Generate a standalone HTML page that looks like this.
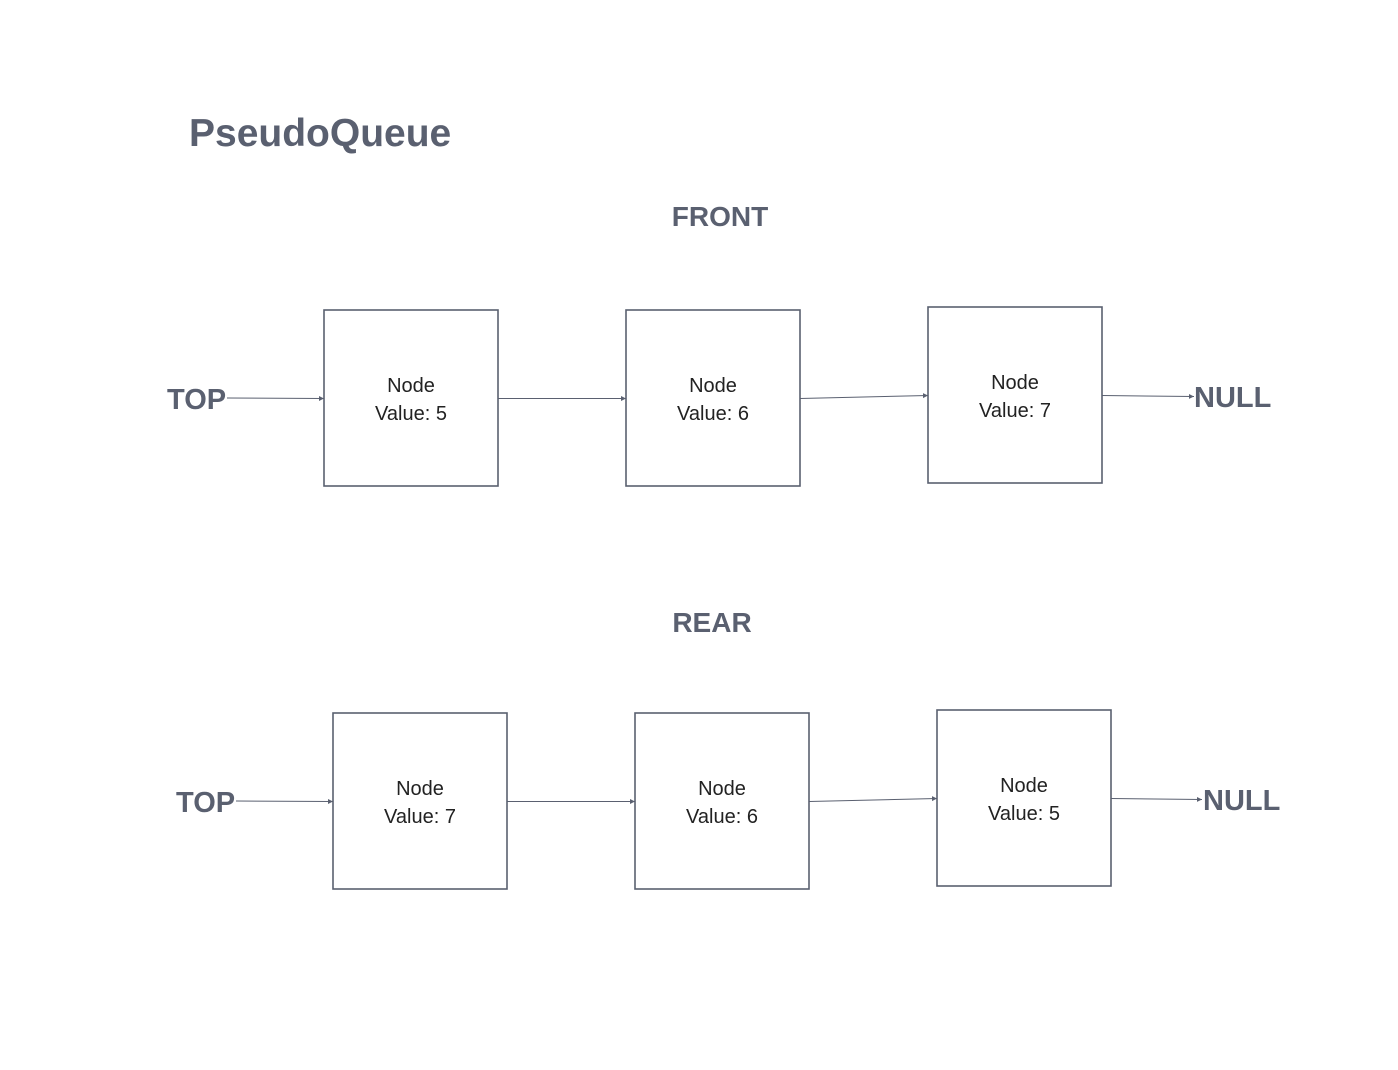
<!DOCTYPE html>
<html><head><meta charset="utf-8"><style>
html,body{margin:0;padding:0;background:#fff;}
svg{display:block;}
</style></head><body>
<svg width="1398" height="1070" viewBox="0 0 1398 1070" xmlns="http://www.w3.org/2000/svg">
<defs><marker id="a" markerWidth="6" markerHeight="6" refX="5" refY="3" orient="auto" markerUnits="userSpaceOnUse"><path d="M0,0.5 L5,3 L0,5.5 z" fill="#5a6070"/></marker></defs>
<g font-family="Liberation Sans, sans-serif" fill="#5a6070" font-weight="bold">
<text x="189" y="146" font-size="39">PseudoQueue</text>
<text x="720" y="226" font-size="28" text-anchor="middle">FRONT</text>
<text x="712" y="632" font-size="28" text-anchor="middle">REAR</text>
<text x="167" y="409" font-size="29">TOP</text>
<text x="1194" y="407" font-size="29">NULL</text>
<text x="176" y="812" font-size="29">TOP</text>
<text x="1203" y="810" font-size="29">NULL</text>
</g>
<g fill="#fff" stroke="#5a6070" stroke-width="1.6">
<rect x="324" y="310" width="174" height="176"/>
<rect x="626" y="310" width="174" height="176"/>
<rect x="928" y="307" width="174" height="176"/>
<rect x="333" y="713" width="174" height="176"/>
<rect x="635" y="713" width="174" height="176"/>
<rect x="937" y="710" width="174" height="176"/>
</g>
<g stroke="#5a6070" stroke-width="1" marker-end="url(#a)">
<line x1="227" y1="398" x2="324" y2="398.5"/>
<line x1="498" y1="398.5" x2="626" y2="398.5"/>
<line x1="800" y1="398.5" x2="928" y2="395.5"/>
<line x1="1102" y1="395.5" x2="1194" y2="396.5"/>
<line x1="236" y1="801" x2="333" y2="801.5"/>
<line x1="507" y1="801.5" x2="635" y2="801.5"/>
<line x1="809" y1="801.5" x2="937" y2="798.5"/>
<line x1="1111" y1="798.5" x2="1202" y2="799.5"/>
</g>
<g font-family="Liberation Sans, sans-serif" fill="#222" font-size="20" text-anchor="middle">
<text x="411" y="392">Node</text><text x="411" y="420">Value: 5</text>
<text x="713" y="392">Node</text><text x="713" y="420">Value: 6</text>
<text x="1015" y="389">Node</text><text x="1015" y="417">Value: 7</text>
<text x="420" y="795">Node</text><text x="420" y="823">Value: 7</text>
<text x="722" y="795">Node</text><text x="722" y="823">Value: 6</text>
<text x="1024" y="792">Node</text><text x="1024" y="820">Value: 5</text>
</g>
</svg>
</body></html>
